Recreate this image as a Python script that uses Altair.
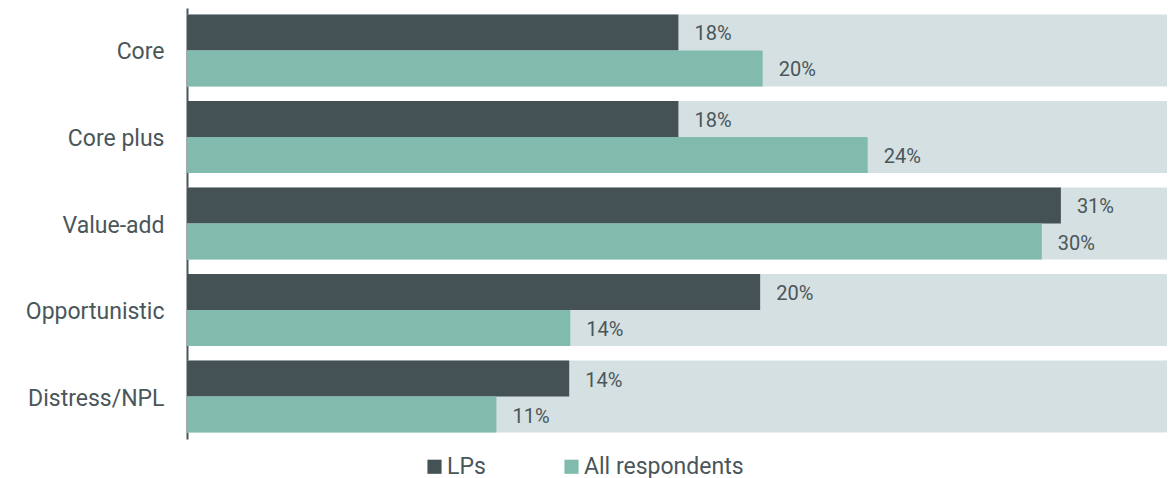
import altair as alt
import pandas as pd

categories = ["Core", "Core plus", "Value-add", "Opportunistic", "Distress/NPL"]
series = ["LPs", "All respondents"]
lps_values = [17.55, 17.55, 31.21, 20.47, 13.65]
all_values = [20.56, 24.31, 30.53, 13.69, 11.05]
lps_labels = ["18%", "18%", "31%", "20%", "14%"]
all_labels = ["20%", "24%", "30%", "14%", "11%"]
background_max = 35

colors = ["#445256", "#80BBAD"]
bg_color = "#D5E0E2"
text_color = "#4A5659"
font = "Roboto"

rows = []
for i, c in enumerate(categories):
    rows.append({"category": c, "series": series[0], "value": lps_values[i], "label": lps_labels[i]})
    rows.append({"category": c, "series": series[1], "value": all_values[i], "label": all_labels[i]})
df = pd.DataFrame(rows)
bg = pd.DataFrame({"category": categories, "value": [background_max] * len(categories)})

x_scale = alt.Scale(domain=[0, background_max], nice=False, zero=True)
y_enc = alt.Y(
    "category:N",
    sort=categories,
    scale=alt.Scale(paddingInner=0.1676, paddingOuter=0.075),
    axis=alt.Axis(
        title=None, ticks=False, grid=False, labelPadding=23, labelFontSize=23,
        labelFontWeight=400, labelOffset=2,
        labelColor=text_color, labelFont=font, domainColor=text_color, domainWidth=2,
    ),
)
yoff = alt.YOffset("series:N", sort=series, scale=alt.Scale(paddingInner=0, paddingOuter=0))

background = alt.Chart(bg).mark_bar(color=bg_color).encode(
    x=alt.X("value:Q", scale=x_scale, axis=None),
    y=y_enc,
)

bars = alt.Chart(df).mark_bar().encode(
    x=alt.X("value:Q", scale=x_scale, axis=None),
    y=y_enc,
    yOffset=yoff,
    color=alt.Color(
        "series:N",
        sort=series,
        scale=alt.Scale(domain=series, range=colors),
        legend=alt.Legend(
            title=None, orient="none", legendX=236, legendY=447, direction="horizontal",
            symbolType="square", symbolSize=200, symbolStrokeWidth=0, labelFontSize=23,
            labelFontWeight=400,
            labelFont=font, labelColor=text_color, columnPadding=74, labelOffset=1,
        ),
    ),
)

labels = alt.Chart(df).mark_text(
    align="left", baseline="middle", dx=16, dy=2, fontSize=20, fontWeight=400,
    font=font, color=text_color
).encode(
    x=alt.X("value:Q", scale=x_scale, axis=None),
    y=y_enc,
    yOffset=yoff,
    text="label:N",
)

chart = alt.layer(background, bars, labels).properties(
    width=980,
    height=431,
    autosize=alt.AutoSizeParams(type="none"),
    padding={"left": 179, "top": 0, "right": 0, "bottom": 50},
).configure_view(stroke=None)

chart.save("out.html", embed_options={"renderer": "svg", "actions": False})
